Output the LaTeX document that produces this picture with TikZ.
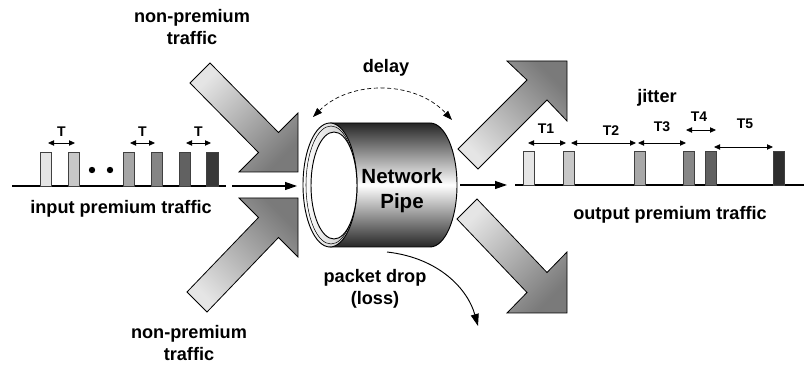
\documentclass[tikz,border=0pt]{standalone}
\usepackage{fontspec}
\setmainfont{Liberation Sans}
\usetikzlibrary{arrows.meta,positioning,calc}

\tikzset{
    lbl/.style={font=\fontsize{13.6}{16.3}\selectfont\bfseries, align=center, inner sep=0pt},
    tlbl/.style={font=\fontsize{10.5}{12}\selectfont\bfseries, inner sep=0pt},
    gap/.style={{Triangle[length=4.5pt,width=4pt]}-{Triangle[length=4.5pt,width=4pt]}, line width=0.6pt},
    flow/.style={-{Triangle[length=9pt,width=6pt]}, line width=0.9pt},
    pulse/.style={draw=black!75, line width=0.5pt},
    block/.style={draw=black, line width=0.6pt, left color=black!10, right color=black!52},
}

\begin{document}
\begin{tikzpicture}[x=0.75pt,y=-0.75pt]

                \useasboundingbox (0,0) rectangle (804,366);

                % Big arrows of the other traffic (in and out)
                \shade[block, shading angle=45]
                    (210,63) -- (278.5,132.5) -- (298,113) -- (298,172) -- (239,172) -- (258.5,152.5) -- (190,83) -- cycle;
                \shade[block, shading angle=135]
                    (187,292) -- (258.5,217.5) -- (239,198) -- (298,198) -- (298,257) -- (278.5,237.5) -- (207,312) -- cycle;
                \shade[block, shading angle=135]
                    (458,149) -- (527,80) -- (507,61) -- (567,61) -- (567,121) -- (547,100) -- (478,169) -- cycle;
                \shade[block, shading angle=45]
                    (477,199) -- (547,272.5) -- (567,252) -- (567,313) -- (507,313) -- (527,292.5) -- (457,219) -- cycle;

                % Pipe body
                \shade[draw=black, line width=0.7pt, top color=black!85, bottom color=black!85, middle color=white]
                    (330,123) -- (430,123) arc[start angle=-90, end angle=90, x radius=27, y radius=62] -- (330,247) -- cycle;

                % Open end of the pipe
                \shade[draw=black, line width=0.7pt, left color=white, right color=black!25]
                    (330,185) ellipse [x radius=27, y radius=62];
                \draw[line width=0.4pt] (331,185) ellipse [x radius=25, y radius=59];
                \filldraw[fill=white, line width=0.7pt] (334,185.5) ellipse [x radius=23, y radius=53.5];

                \node[font=\fontsize{15.4}{19}\selectfont\bfseries, align=center, inner sep=0pt] (pipe) at (402,191) {Network\\Pipe};

                % Input line and pulses
                \draw[line width=0.9pt] (12,186) -- (226,186);
                \foreach \x/\g in {40/10,68/22,123/35,151/48,179/62,206.5/78}
                    \filldraw[pulse, fill=black!\g] (\x,152) rectangle ++(11.5,34);
                \fill (92,170) circle[radius=2.4pt];
                \fill (110,170) circle[radius=2.4pt];

                % Spacing of the input pulses
                \foreach \a/\b in {48/75,130/155,186/211} {
                    \draw[gap] (\a,143) -- (\b,143);
                    \node[tlbl] at ({(\a+\b)/2},132) {T};
                }

                % Output line and pulses
                \draw[line width=0.9pt] (515,185) -- (804,185);
                \foreach \x/\g in {523/10,563/22,634/34,683/47,705/62,773/82}
                    \filldraw[pulse, fill=black!\g] (\x,151) rectangle ++(11.5,34);

                % Spacing of the output pulses
                \draw[gap] (528,143) -- (566,143);
                \draw[gap] (571,143) -- (636,143);
                \draw[gap] (638,143) -- (686,143);
                \draw[gap] (686,130) -- (716,130);
                \draw[gap] (714,147) -- (773,147);
                \node[tlbl] (t1) at (546,129) {T1};
                \node[tlbl] (t2) at (611,131) {T2};
                \node[tlbl] (t3) at (662,127) {T3};
                \node[tlbl] (t4) at (699,117) {T4};
                \node[tlbl] (t5) at (745,124) {T5};

                % Flow into and out of the pipe
                \coordinate (in-a) at (232,186);
                \coordinate (in-b) at (297,186);
                \coordinate (out-a) at (460,185);
                \coordinate (out-b) at (507,185);
                \draw[flow] (in-a) -- (in-b);
                \draw[flow] (out-a) -- (out-b);

                % Delay and loss
                \coordinate (delay-l) at (313,117);
                \coordinate (delay-r) at (452,120);
                \draw[{Triangle[length=7pt,width=5pt]}-{Triangle[length=7pt,width=5pt]}, densely dashed, line width=0.5pt]
                    (delay-l) .. controls (350,80) and (415,80) .. (delay-r);
                \coordinate (drop-a) at (387,252);
                \coordinate (drop-b) at (478,326);
                \draw[-{Triangle[length=9pt,width=6pt]}, line width=0.7pt]
                    (drop-a) .. controls (440,258) and (468,290) .. (drop-b);

                % Labels
                \node[lbl] (np-top) at (192,27) {non-premium\\traffic};
                \node[lbl] (np-bot) at (189,343) {non-premium\\traffic};
                \node[lbl] (in-lbl) at (121,209) {input premium traffic};
                \node[lbl] (out-lbl) at (670,215) {output premium traffic};
                \node[lbl] (delay) at (386,68) {delay};
                \node[lbl] (jitter) at (657,98) {jitter};
                \node[lbl] (loss) at (375,289) {packet drop\\(loss)};
            \end{tikzpicture}
\end{document}
